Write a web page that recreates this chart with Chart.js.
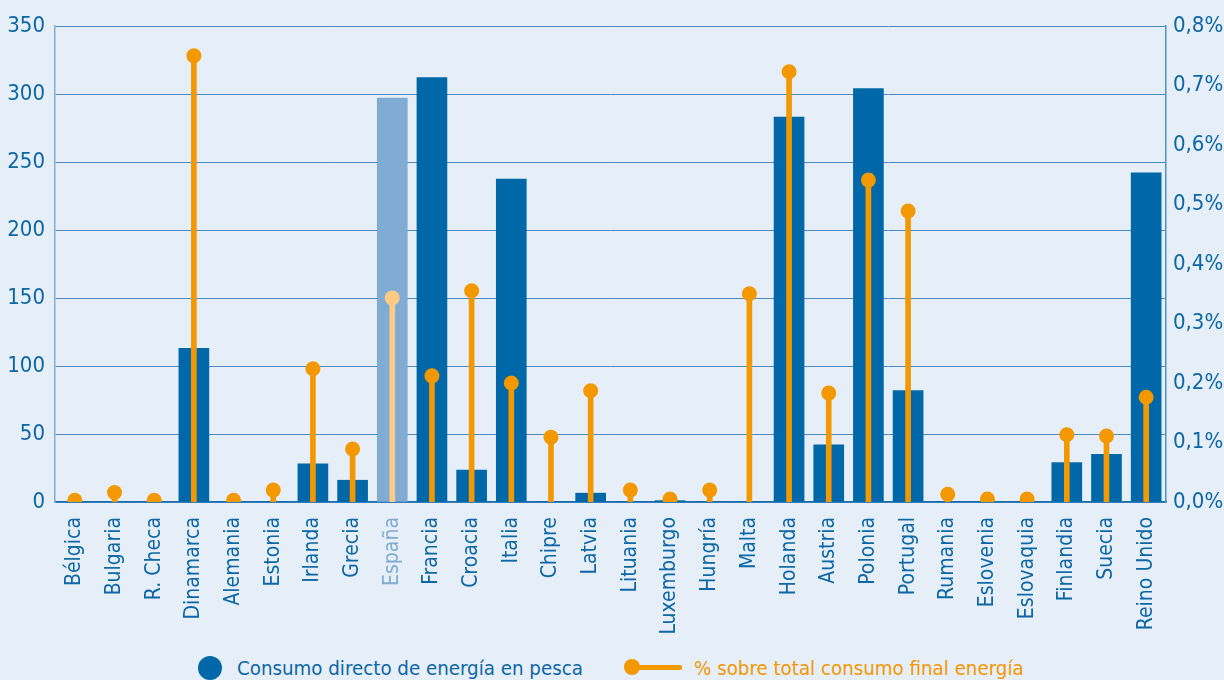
<!DOCTYPE html>
<html>
<head>
<meta charset="utf-8">
<script src="https://cdn.jsdelivr.net/npm/chart.js@4"></script>
<style>
  html, body { margin: 0; padding: 0; background: #E6EEF7; overflow: hidden; }
  #wrap { position: relative; width: 1224px; height: 680px; }
  #grafico { position: absolute; left: 0; top: 0; }
  .leyenda { position: absolute; top: 654px; height: 28px; line-height: 28px; white-space: nowrap;
    font-family: 'DejaVu Sans Condensed', 'DejaVu Sans', sans-serif; font-size: 20.3px; }
  .circulo { position: absolute; left: 198px; top: 656px; width: 24px; height: 24px; border-radius: 50%; background: #0068A8; }
  .linea { position: absolute; left: 627px; top: 665px; width: 55px; height: 5px; background: #F39800; border-radius: 2px; }
  .punto { position: absolute; left: 624px; top: 659px; width: 16px; height: 16px; border-radius: 50%; background: #F39800; }
</style>
</head>
<body>
<div id="wrap">
  <canvas id="grafico" width="1224" height="640"></canvas>
  <div class="circulo"></div>
  <div class="leyenda" style="left:237px; color:#0C67A6;">Consumo directo de energía en pesca</div>
  <div class="linea"></div><div class="punto"></div>
  <div class="leyenda" style="left:694px; color:#F39800;">% sobre total consumo final energía</div>
</div>
<script>
// datos
var paises = ['Bélgica', 'Bulgaria', 'R. Checa', 'Dinamarca', 'Alemania', 'Estonia', 'Irlanda', 'Grecia',
  'España', 'Francia', 'Croacia', 'Italia', 'Chipre', 'Latvia', 'Lituania', 'Luxemburgo', 'Hungría',
  'Malta', 'Holanda', 'Austria', 'Polonia', 'Portugal', 'Rumania', 'Eslovenia', 'Eslovaquia',
  'Finlandia', 'Suecia', 'Reino Unido'];
var consumo = [0, 0, 0, 113, 0, 0, 28, 16, 297, 312, 23.5, 237.5, 0, 6.5, 0, 1, 0, 0, 283, 42, 304, 82,
  0, 0, 0, 29, 35, 242];
var porcentaje = [0.003, 0.016, 0.003, 0.75, 0.003, 0.02, 0.224, 0.089, 0.343, 0.212, 0.355, 0.20, 0.109,
  0.187, 0.02, 0.005, 0.02, 0.35, 0.723, 0.183, 0.541, 0.489, 0.013, 0.005, 0.005, 0.113, 0.111, 0.176];
var ticksIzq = [0, 50, 100, 150, 200, 250, 300, 350];
var ticksDer = [0, 0.1, 0.2, 0.3, 0.4, 0.5, 0.6, 0.7, 0.8];

var AZUL = '#0068A8';
var AZUL_CLARO = '#80ACD4';
var NARANJA = '#F39800';
var NARANJA_CLARO = '#FFC986';
var TEXTO = '#0C67A6';
var FUENTE = "'DejaVu Sans Condensed', 'DejaVu Sans', sans-serif";

// España va destacada
function colores(normal, destacado) {
  return paises.map(function (p) { return p == 'España' ? destacado : normal; });
}

var ctx = document.getElementById('grafico').getContext('2d');
var grafico = new Chart(ctx, {
  type: 'bar',
  data: {
    labels: paises,
    datasets: [{
      label: 'Consumo directo de energía en pesca',
      data: consumo,
      yAxisID: 'y',
      backgroundColor: colores(AZUL, AZUL_CLARO),
      barThickness: 30,
      grouped: false,
      order: 3
    }, {
      label: 'tallo',
      data: porcentaje,
      yAxisID: 'y1',
      backgroundColor: colores(NARANJA, NARANJA_CLARO),
      barThickness: 5,
      grouped: false,
      order: 2
    }, {
      type: 'line',
      label: '% sobre total consumo final energía',
      data: porcentaje,
      yAxisID: 'y1',
      showLine: false,
      pointRadius: 7.5,
      pointHoverRadius: 7.5,
      pointBorderWidth: 0,
      pointBackgroundColor: colores(NARANJA, NARANJA_CLARO),
      order: 1
    }]
  },
  options: {
    responsive: false,
    animation: false,
    layout: { padding: { top: 26, left: 0, right: 0, bottom: 0 } },
    plugins: {
      tooltip: { enabled: false },
      legend: { display: false }
    },
    scales: {
      x: {
        afterFit: function (s) { s.height = 138; },
        grid: { display: false },
        border: { color: '#1F6FAD', width: 1.5 },
        ticks: {
          autoSkip: false,
          minRotation: 90,
          maxRotation: 90,
          padding: 7,
          color: function (c) { return paises[c.index] == 'España' ? AZUL_CLARO : TEXTO; },
          font: { family: FUENTE, size: 21 }
        }
      },
      y: {
        position: 'left',
        min: 0,
        max: 350,
        afterBuildTicks: function (s) { s.ticks = ticksIzq.map(function (v) { return { value: v }; }); },
        afterFit: function (s) { s.width = 55; },
        grid: { color: '#4A8BC2', lineWidth: 1, drawTicks: false },
        border: { color: '#7FAFD6', width: 1.5 },
        ticks: {
          padding: 10,
          color: TEXTO,
          font: { family: FUENTE, size: 22 }
        }
      },
      y1: {
        position: 'right',
        min: 0,
        max: 0.8,
        afterBuildTicks: function (s) { s.ticks = ticksDer.map(function (v) { return { value: v }; }); },
        afterFit: function (s) { s.width = 58; },
        grid: { display: false, drawTicks: false },
        border: { color: '#4D92C8', width: 1.5 },
        ticks: {
          padding: 7,
          color: TEXTO,
          font: { family: FUENTE, size: 22 },
          callback: function (v) { return v.toFixed(1).replace('.', ',') + '%'; }
        }
      }
    }
  }
});
</script>
</body>
</html>
